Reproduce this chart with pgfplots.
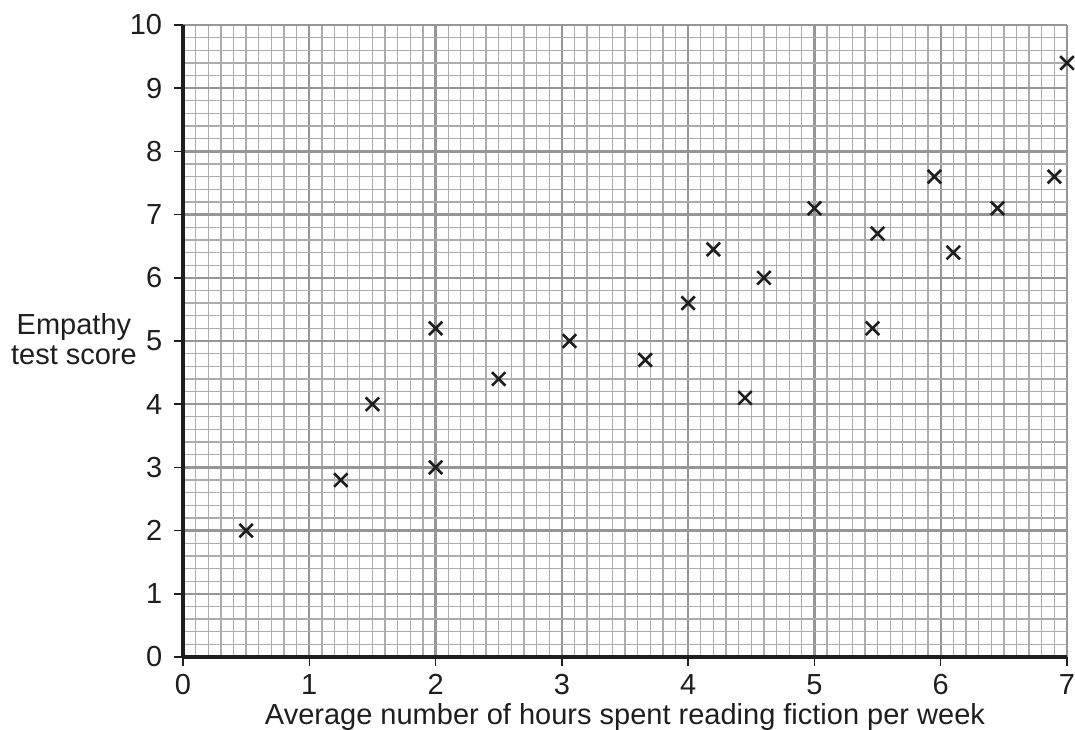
\documentclass[border=0pt]{standalone}
\usepackage{fontspec}
\setmainfont{Liberation Sans}
\usepackage{pgfplots}
\pgfplotsset{compat=1.18}

\definecolor{majorgrid}{RGB}{150,150,150}
\definecolor{minorgrid}{RGB}{172,172,172}
\definecolor{ink}{RGB}{30,30,30}

\begin{document}
\fontsize{29}{29.5}\selectfont
\begin{tikzpicture}
\begin{axis}[
    name=ax,
    at={(0,0)}, anchor=south west,
    scale only axis,
    width=884pt, height=632pt,
    xmin=0, xmax=7, ymin=0, ymax=10,
    xtick={0,...,7}, ytick={0,...,10},
    minor x tick num=9, minor y tick num=4,
    grid=both,
    major grid style={line width=2.4pt, majorgrid},
    minor grid style={line width=1.3pt, minorgrid},
    axis lines=left,
    axis line style={-, line width=4pt, ink},
    tick align=outside,
    major tick length=9pt,
    minor tick length=0pt,
    major tick style={line width=1.5pt, ink},
    /pgf/number format/assume math mode=true,
    xticklabel style={anchor=base, yshift=-28pt, text=ink},
    yticklabel style={anchor=east, xshift=-2pt, text=ink},
    xlabel={Average number of hours spent reading fiction per week},
    xlabel style={at={(axis description cs:0.5,0)}, anchor=base, yshift=-67pt, inner sep=0pt, text=ink},
    ylabel={Empathy\\test score},
    ylabel style={at={(axis description cs:0,0.5)}, anchor=east, rotate=-90, align=center, xshift=-46pt, yshift=2pt, inner sep=0pt, text=ink},
    clip=false,
]
\addplot[only marks, mark=x, mark size=9.5pt, mark options={line width=2.6pt, ink}] coordinates {
    (0.5,2.0) (1.25,2.8) (1.5,4.0) (2.0,3.0) (2.0,5.2)
    (2.5,4.4) (3.06,5.0) (3.66,4.7) (4.0,5.6) (4.2,6.45)
    (4.45,4.1) (4.6,6.0) (5.0,7.1) (5.46,5.2) (5.5,6.7)
    (5.95,7.6) (6.1,6.4) (6.45,7.1) (6.9,7.6) (7.0,9.4)
};
\end{axis}
\pgfresetboundingbox
\path (-183pt,-72pt) rectangle (892pt,657pt);
\end{tikzpicture}
\end{document}
